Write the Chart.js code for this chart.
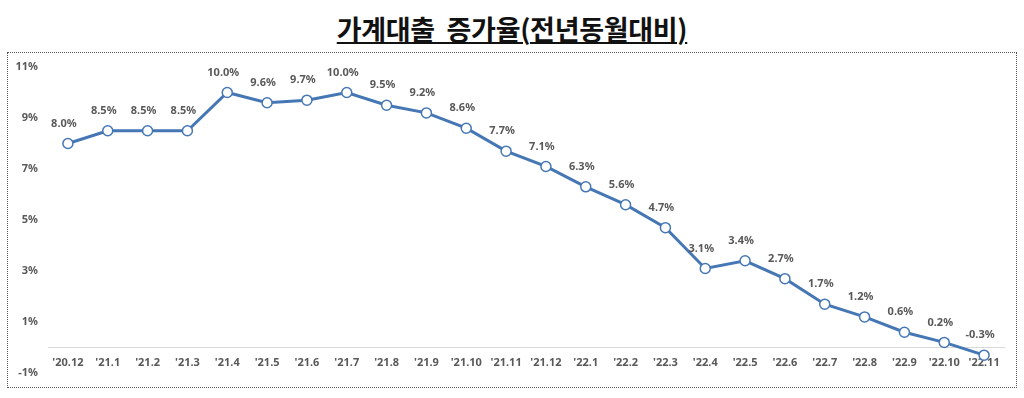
<!DOCTYPE html>
<html>
<head>
<meta charset="utf-8">
<script src="https://cdn.jsdelivr.net/npm/chart.js@4"></script>
<style>
  html, body { margin: 0; padding: 0; background: #fff; width: 1024px; height: 398px; overflow: hidden; }
  #title {
    position: absolute; left: 0; top: 13px; width: 1024px; text-align: center;
    font-family: "Noto Sans CJK KR", "Noto Sans", sans-serif; font-weight: 700; font-size: 27px;
    line-height: 32px; color: #111; letter-spacing: -0.3px;
  }
  #title span { text-decoration: underline; text-decoration-thickness: 2px; text-underline-offset: 2px; }
  #box {
    position: absolute; left: 7px; top: 52px; width: 1008px; height: 334px;
    border: 1px dotted #555;
  }
  #box canvas { display: block; }
</style>
</head>
<body>
<div id="title"><span>가계대출&nbsp; 증가율(전년동월대비)</span></div>
<div id="box"><canvas id="c" width="1008" height="334"></canvas></div>
<script>
const categories = ["'20.12","'21.1","'21.2","'21.3","'21.4","'21.5","'21.6","'21.7","'21.8","'21.9","'21.10","'21.11","'21.12","'22.1","'22.2","'22.3","'22.4","'22.5","'22.6","'22.7","'22.8","'22.9","'22.10","'22.11"];
const growthRate = [8.0, 8.5, 8.5, 8.5, 10.0, 9.6, 9.7, 10.0, 9.5, 9.2, 8.6, 7.7, 7.1, 6.3, 5.6, 4.7, 3.1, 3.4, 2.7, 1.7, 1.2, 0.6, 0.2, -0.3];
const yTicks = [-1, 1, 3, 5, 7, 9, 11];

const txtColor = '#595959';
const fontFam = '"Noto Sans", "Noto Sans CJK KR", sans-serif';

const valueLabels = {
  id: 'valueLabels',
  afterDatasetsDraw(chart) {
    const ctx = chart.ctx;
    const meta = chart.getDatasetMeta(0);
    ctx.save();
    ctx.font = 'bold 11px ' + fontFam;
    ctx.fillStyle = txtColor;
    ctx.textAlign = 'center';
    ctx.textBaseline = 'middle';
    meta.data.forEach((pt, i) => {
      const v = chart.data.datasets[0].data[i];
      ctx.fillText(v.toFixed(1) + '%', pt.x - 4, pt.y - 20);
    });
    ctx.restore();
  }
};

new Chart(document.getElementById('c'), {
  type: 'line',
  data: {
    labels: categories,
    datasets: [{
      data: growthRate,
      borderColor: '#4677b5',
      borderWidth: 3,
      pointRadius: 5,
      pointBackgroundColor: '#ffffff',
      pointBorderColor: '#4677b5',
      pointBorderWidth: 1.5,
      tension: 0,
      clip: false
    }]
  },
  options: {
    responsive: false,
    animation: false,
    events: [],
    layout: { padding: { top: 14, bottom: 14, left: 0, right: 12 } },
    plugins: { legend: { display: false }, tooltip: { enabled: false }, title: { display: false } },
    scales: {
      x: {
        type: 'category',
        offset: true,
        position: { y: 0 },
        grid: { display: true, color: 'rgba(0,0,0,0)', drawTicks: false },
        border: { display: true, color: '#d9d9d9', width: 1 },
        ticks: { color: txtColor, font: { family: fontFam, size: 11, weight: 'bold' }, padding: 9, maxRotation: 0, autoSkip: false }
      },
      y: {
        min: -1, max: 11,
        afterBuildTicks(scale) { scale.ticks = yTicks.map(v => ({ value: v })); },
        afterFit(scale) { scale.width = 40; },
        grid: { display: true, color: 'rgba(0,0,0,0)', drawTicks: true, tickLength: 10, tickColor: 'rgba(0,0,0,0)' },
        border: { display: false },
        ticks: { color: txtColor, font: { family: fontFam, size: 11, weight: 'bold' }, padding: 0, callback: v => v + '%' }
      }
    }
  },
  plugins: [valueLabels]
});
</script>
</body>
</html>
